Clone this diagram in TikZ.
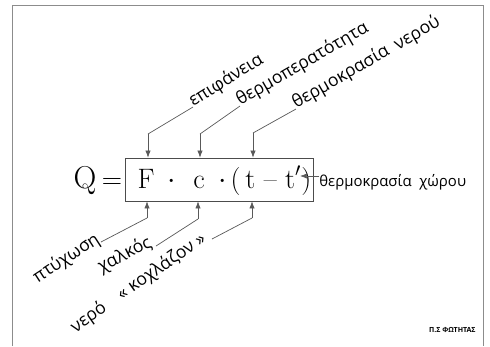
\documentclass[tikz,border=0pt]{standalone}
\usepackage{fontspec}
\newfontfamily\hand{Open Sans}
\usetikzlibrary{calc}
\usetikzlibrary{arrows.meta}

\tikzset{
  lbl/.style={font=\hand\fontsize{10}{12}\selectfont, inner sep=0pt},
  lead/.style={black!65, line width=0.4pt},
  ptr/.style={lead, -{Latex[length=4pt,width=3pt]}},
  big/.style={font=\fontsize{16}{19}\selectfont, inner sep=0pt, anchor=base},
}

\begin{document}
\begin{tikzpicture}[x=0.02cm,y=-0.02cm]
\fill[white] (0,0) rectangle (490,346);
\draw[black!45] (12,346) -- (12,5) -- (483,5) -- (483,346);

% formula
\node[big, font=\fontsize{18}{20}\selectfont] (q) at (85,188) {Q};
\node[big] (eq) at (112,188) {=};
\node[draw, black!70, minimum width=3.76cm, minimum height=0.86cm, inner sep=0pt] (box) at (219,179.5) {};
\node[big] (b1) at (146,188) {F};
\node[big] (d1) at (172,188) {$\cdot$};
\node[big] (b2) at (199,188) {c};
\node[big] (d2) at (223,188) {$\cdot$};
\node[big] (b3) at (271,188) {(\,t -- t$'$)};

% top labels
\coordinate (u1) at (148,134);
\coordinate (u2) at (200,134);
\coordinate (u3) at (253,133);
\node[lbl, anchor=base west, rotate=32] (t1) at (193,107) {επιφάνεια};
\node[lbl, anchor=base west, rotate=30] (t2) at (240,106) {θερμοπερατότητα};
\node[lbl, anchor=base west, rotate=30] (t3) at (296,109) {θερμοκρασία\enspace νερού};
\draw[lead] (t1.base west) -- (u1);
\draw[lead] (t2.base west) -- (u2);
\draw[lead] (t3.base west) -- (u3);
\draw[ptr] (u1) -- (u1 |- box.north);
\draw[ptr] (u2) -- (u2 |- box.north);
\draw[ptr] (u3) -- (u3 |- box.north);

% bottom labels
\coordinate (v1) at (147,218);
\coordinate (v2) at (198,219);
\coordinate (v3) at (252,218);
\node[lbl, anchor=base east, rotate=33] (l1) at (101,242) {πτύχωση};
\node[lbl, anchor=base east, rotate=27] (l2) at (153,246) {χαλκός};
\node[lbl, anchor=base east, rotate=35] (l3) at (207,241) {νερό\quad« κοχλάζον »};
\draw[lead] (l1.base east) -- (v1);
\draw[lead] ($(l2.base east)+(3,0)$) -- (v2);
\draw[lead] ($(l3.base east)+(5,-2)$) -- (v3);
\draw[ptr] (v1) -- (v1 |- box.south);
\draw[ptr] (v2) -- (v2 |- box.south);
\draw[ptr] (v3) -- (v3 |- box.south);

% right label
\node[font=\hand\fontsize{8.5}{10}\selectfont, inner sep=0pt, anchor=base west] (r1) at (319,186) {θερμοκρασία\enspace χώρου};
\draw[ptr] (r1.west |- 0,176) -- (300,176);

\node[font=\hand\fontsize{4}{5}\selectfont\bfseries, anchor=base east, inner sep=0pt] (sig) at (476,332) {Π.Σ ΦΩΤΗΤΑΣ};
\end{tikzpicture}
\end{document}
